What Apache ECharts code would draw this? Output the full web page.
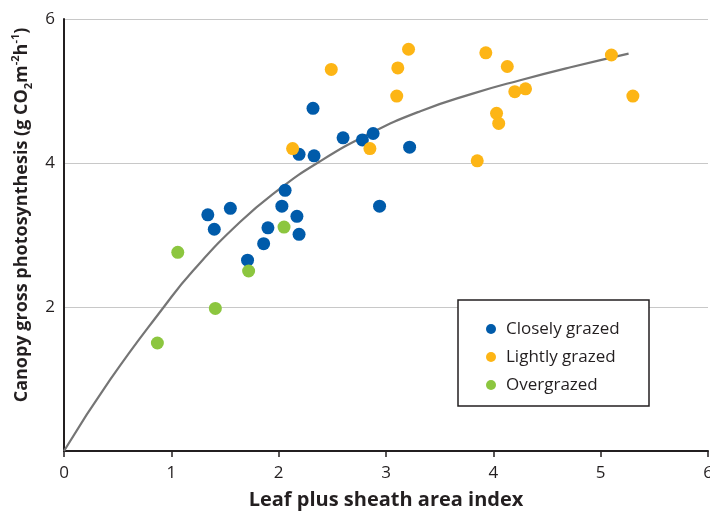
<!DOCTYPE html>
<html><head><meta charset="utf-8">
<script src="https://cdn.jsdelivr.net/npm/echarts@6/dist/echarts.min.js"></script>
<style>html,body{margin:0;padding:0;background:#fff}#c{width:710px;height:514px}</style>
</head><body><div id="c"></div>
<script>
const seriesNames = ['Closely grazed', 'Lightly grazed', 'Overgrazed'];
const seriesColors = ['#005BAA', '#FDB515', '#8CC63F'];

// [leaf plus sheath area index, canopy gross photosynthesis]
const closelyGrazed = [
  [1.34, 3.28], [1.40, 3.08], [1.55, 3.37], [1.71, 2.65], [1.86, 2.88],
  [1.90, 3.10], [2.03, 3.40], [2.06, 3.62], [2.17, 3.26], [2.19, 3.01],
  [2.19, 4.12], [2.33, 4.10], [2.32, 4.76], [2.60, 4.35], [2.78, 4.32],
  [2.88, 4.41], [3.22, 4.22], [2.94, 3.40]
];
const lightlyGrazed = [
  [2.13, 4.20], [2.85, 4.20], [2.49, 5.30], [3.10, 4.93], [3.11, 5.32],
  [3.21, 5.58], [3.93, 5.53], [4.13, 5.34], [4.20, 4.99], [4.30, 5.03],
  [4.03, 4.69], [4.05, 4.55], [3.85, 4.03], [5.10, 5.50], [5.30, 4.93]
];
const overgrazed = [
  [0.87, 1.50], [1.06, 2.76], [1.41, 1.98], [1.72, 2.50], [2.05, 3.11]
];
// fitted curve
const fitCurve = [
  [0, 0], [0.43, 0.99], [0.93, 2.0], [1.2, 2.5], [1.64, 3.18], [2.0, 3.63],
  [2.36, 4.0], [2.85, 4.41], [3.32, 4.72], [3.8, 4.96], [4.25, 5.15],
  [4.72, 5.33], [5.26, 5.52]
];

const xTitle = 'Leaf plus sheath area index';
const yTitleParts = ['Canopy gross photosynthesis (g CO', '2', 'm', '-2', 'h', '-1', ')'];
const xRange = [0, 6, 1];
const yRange = [0, 6, 2];

const FONT = '"Open Sans", "Noto Sans", sans-serif';
const INK = '#231f20';

const chart = echarts.init(document.getElementById('c'), null, {renderer: 'canvas'});
const dataSets = [closelyGrazed, lightlyGrazed, overgrazed];

const yTitleRich = '{a|' + yTitleParts[0] + '}{sub|' + yTitleParts[1] + '}{a|' + yTitleParts[2] +
  '}{sup|' + yTitleParts[3] + '}{a|' + yTitleParts[4] + '}{sup|' + yTitleParts[5] + '}{a|' + yTitleParts[6] + '}';

chart.setOption({
  animation: false,
  backgroundColor: '#fff',
  grid: {left: 64, right: 2, top: 19, bottom: 63, containLabel: false, outerBoundsMode: 'none'},
  xAxis: {
    type: 'value', min: xRange[0], max: xRange[1], interval: xRange[2],
    name: xTitle, nameLocation: 'middle', nameGap: 39,
    nameTextStyle: {fontFamily: FONT, fontWeight: 'bold', fontSize: 20, color: INK},
    axisLine: {show: true, onZero: false, lineStyle: {color: INK, width: 2}},
    axisTick: {show: true, length: 6, lineStyle: {color: INK, width: 1.5}},
    axisLabel: {fontFamily: FONT, fontSize: 17, color: INK, margin: 14},
    splitLine: {show: false}
  },
  yAxis: {
    type: 'value', min: yRange[0], max: yRange[1], interval: yRange[2],
    axisLine: {show: true, onZero: false, lineStyle: {color: INK, width: 2}},
    axisTick: {show: false},
    axisLabel: {fontFamily: FONT, fontSize: 17, color: INK, margin: 9,
      formatter: v => (v === 0 ? '' : String(v))},
    splitLine: {show: true, lineStyle: {color: '#c8c8c8', width: 1}}
  },
  legend: {
    data: seriesNames, orient: 'vertical', left: 481, top: 315,
    itemWidth: 20, itemHeight: 10, itemGap: 10, icon: 'circle', selectedMode: false,
    textStyle: {fontFamily: FONT, fontSize: 17, color: INK, lineHeight: 18},
    z: 5
  },
  graphic: [
    {type: 'rect', z: 3, shape: {x: 458, y: 300, width: 191, height: 106},
      style: {fill: '#fff', stroke: INK, lineWidth: 1.5}},
    {type: 'text', z: 5, x: 22, y: 215, rotation: Math.PI / 2,
      style: {text: yTitleRich, align: 'center', verticalAlign: 'middle',
        rich: {
          a: {fontFamily: FONT, fontWeight: 'bold', fontSize: 18, lineHeight: 24, fill: INK},
          sub: {fontFamily: FONT, fontWeight: 'bold', fontSize: 11, lineHeight: 24, verticalAlign: 'bottom', fill: INK},
          sup: {fontFamily: FONT, fontWeight: 'bold', fontSize: 11, lineHeight: 24, verticalAlign: 'top', fill: INK}
        }}}
  ],
  series: [
    {type: 'line', name: 'fit', data: fitCurve, smooth: 0.5, showSymbol: false, silent: true,
      lineStyle: {color: '#757575', width: 2.2}, z: 1}
  ].concat(seriesNames.map((n, i) => ({
    type: 'scatter', name: n, data: dataSets[i], symbol: 'circle', symbolSize: 13,
    itemStyle: {color: seriesColors[i], opacity: 1}, z: 2 + i
  })))
});
</script></body></html>
